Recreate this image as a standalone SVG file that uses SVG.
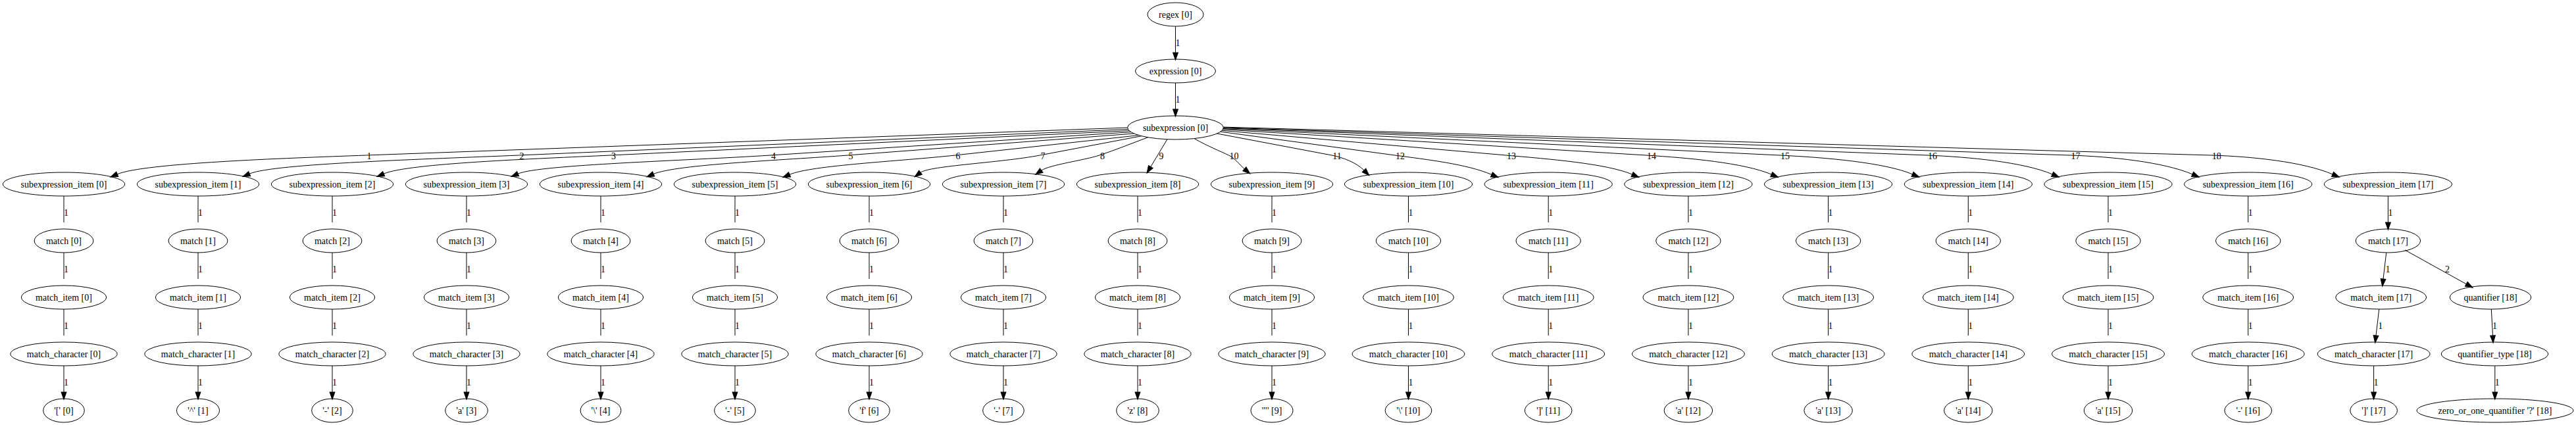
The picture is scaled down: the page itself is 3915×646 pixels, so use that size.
<svg xmlns="http://www.w3.org/2000/svg" width="3915" height="646" viewBox="0 0 3915 646">
<style>
ellipse{fill:none;stroke:#000;stroke-width:1}
text{font-family:"Liberation Serif","Times New Roman",serif;font-size:14px;text-anchor:middle;fill:#000}
.e{fill:none;stroke:#000;stroke-width:1;marker-end:url(#a)}
</style>
<defs>
<marker id="a" markerUnits="userSpaceOnUse" markerWidth="11" markerHeight="8" refX="0" refY="3.5" orient="auto" viewBox="0 0 10 7" overflow="visible"><path d="M0,0 L10,3.5 L0,7 z" fill="#000" stroke="#000" stroke-width="1"/></marker>
</defs>
<rect width="3915" height="646" fill="#fff"/>
<g id="regex_0"><ellipse cx="1786.5" cy="22" rx="42.5" ry="18"/><text x="1786.5" y="26.5">regex [0]</text></g>
<g id="expression_0"><ellipse cx="1786.5" cy="108" rx="61" ry="18"/><text x="1786.5" y="112.5">expression [0]</text></g>
<g id="subexpression_0"><ellipse cx="1786.5" cy="194" rx="72.9" ry="18"/><text x="1786.5" y="198.5">subexpression [0]</text></g>

<g id="subexpression_item_0"><ellipse cx="97" cy="280" rx="92.7" ry="18"/><text x="97" y="284.5">subexpression_item [0]</text></g>
<g id="match_0"><ellipse cx="97" cy="366" rx="44.9" ry="18"/><text x="97" y="370.5">match [0]</text></g>
<g id="match_item_0"><ellipse cx="97" cy="452" rx="64.7" ry="18"/><text x="97" y="456.5">match_item [0]</text></g>
<g id="match_character_0"><ellipse cx="97" cy="538" rx="81.1" ry="18"/><text x="97" y="542.5">match_character [0]</text></g>
<g id="leaf_0"><ellipse cx="97" cy="624" rx="31.3" ry="18"/><text x="97" y="628.5">'[' [0]</text></g>

<g id="subexpression_item_1"><ellipse cx="301" cy="280" rx="92.7" ry="18"/><text x="301" y="284.5">subexpression_item [1]</text></g>
<g id="match_1"><ellipse cx="301" cy="366" rx="44.9" ry="18"/><text x="301" y="370.5">match [1]</text></g>
<g id="match_item_1"><ellipse cx="301" cy="452" rx="64.7" ry="18"/><text x="301" y="456.5">match_item [1]</text></g>
<g id="match_character_1"><ellipse cx="301" cy="538" rx="81.1" ry="18"/><text x="301" y="542.5">match_character [1]</text></g>
<g id="leaf_1"><ellipse cx="301" cy="624" rx="32.5" ry="18"/><text x="301" y="628.5">'^' [1]</text></g>

<g id="subexpression_item_2"><ellipse cx="505" cy="280" rx="92.7" ry="18"/><text x="505" y="284.5">subexpression_item [2]</text></g>
<g id="match_2"><ellipse cx="505" cy="366" rx="44.9" ry="18"/><text x="505" y="370.5">match [2]</text></g>
<g id="match_item_2"><ellipse cx="505" cy="452" rx="64.7" ry="18"/><text x="505" y="456.5">match_item [2]</text></g>
<g id="match_character_2"><ellipse cx="505" cy="538" rx="81.1" ry="18"/><text x="505" y="542.5">match_character [2]</text></g>
<g id="leaf_2"><ellipse cx="505" cy="624" rx="31.3" ry="18"/><text x="505" y="628.5">'-' [2]</text></g>

<g id="subexpression_item_3"><ellipse cx="709" cy="280" rx="92.7" ry="18"/><text x="709" y="284.5">subexpression_item [3]</text></g>
<g id="match_3"><ellipse cx="709" cy="366" rx="44.9" ry="18"/><text x="709" y="370.5">match [3]</text></g>
<g id="match_item_3"><ellipse cx="709" cy="452" rx="64.7" ry="18"/><text x="709" y="456.5">match_item [3]</text></g>
<g id="match_character_3"><ellipse cx="709" cy="538" rx="81.1" ry="18"/><text x="709" y="542.5">match_character [3]</text></g>
<g id="leaf_3"><ellipse cx="709" cy="624" rx="32.3" ry="18"/><text x="709" y="628.5">'a' [3]</text></g>

<g id="subexpression_item_4"><ellipse cx="913" cy="280" rx="92.7" ry="18"/><text x="913" y="284.5">subexpression_item [4]</text></g>
<g id="match_4"><ellipse cx="913" cy="366" rx="44.9" ry="18"/><text x="913" y="370.5">match [4]</text></g>
<g id="match_item_4"><ellipse cx="913" cy="452" rx="64.7" ry="18"/><text x="913" y="456.5">match_item [4]</text></g>
<g id="match_character_4"><ellipse cx="913" cy="538" rx="81.1" ry="18"/><text x="913" y="542.5">match_character [4]</text></g>
<g id="leaf_4"><ellipse cx="913" cy="624" rx="30.9" ry="18"/><text x="913" y="628.5">'\' [4]</text></g>

<g id="subexpression_item_5"><ellipse cx="1117" cy="280" rx="92.7" ry="18"/><text x="1117" y="284.5">subexpression_item [5]</text></g>
<g id="match_5"><ellipse cx="1117" cy="366" rx="44.9" ry="18"/><text x="1117" y="370.5">match [5]</text></g>
<g id="match_item_5"><ellipse cx="1117" cy="452" rx="64.7" ry="18"/><text x="1117" y="456.5">match_item [5]</text></g>
<g id="match_character_5"><ellipse cx="1117" cy="538" rx="81.1" ry="18"/><text x="1117" y="542.5">match_character [5]</text></g>
<g id="leaf_5"><ellipse cx="1117" cy="624" rx="31.3" ry="18"/><text x="1117" y="628.5">'-' [5]</text></g>

<g id="subexpression_item_6"><ellipse cx="1321" cy="280" rx="92.7" ry="18"/><text x="1321" y="284.5">subexpression_item [6]</text></g>
<g id="match_6"><ellipse cx="1321" cy="366" rx="44.9" ry="18"/><text x="1321" y="370.5">match [6]</text></g>
<g id="match_item_6"><ellipse cx="1321" cy="452" rx="64.7" ry="18"/><text x="1321" y="456.5">match_item [6]</text></g>
<g id="match_character_6"><ellipse cx="1321" cy="538" rx="81.1" ry="18"/><text x="1321" y="542.5">match_character [6]</text></g>
<g id="leaf_6"><ellipse cx="1321" cy="624" rx="31.3" ry="18"/><text x="1321" y="628.5">'f' [6]</text></g>

<g id="subexpression_item_7"><ellipse cx="1525" cy="280" rx="92.7" ry="18"/><text x="1525" y="284.5">subexpression_item [7]</text></g>
<g id="match_7"><ellipse cx="1525" cy="366" rx="44.9" ry="18"/><text x="1525" y="370.5">match [7]</text></g>
<g id="match_item_7"><ellipse cx="1525" cy="452" rx="64.7" ry="18"/><text x="1525" y="456.5">match_item [7]</text></g>
<g id="match_character_7"><ellipse cx="1525" cy="538" rx="81.1" ry="18"/><text x="1525" y="542.5">match_character [7]</text></g>
<g id="leaf_7"><ellipse cx="1525" cy="624" rx="31.3" ry="18"/><text x="1525" y="628.5">'-' [7]</text></g>

<g id="subexpression_item_8"><ellipse cx="1729" cy="280" rx="92.7" ry="18"/><text x="1729" y="284.5">subexpression_item [8]</text></g>
<g id="match_8"><ellipse cx="1729" cy="366" rx="44.9" ry="18"/><text x="1729" y="370.5">match [8]</text></g>
<g id="match_item_8"><ellipse cx="1729" cy="452" rx="64.7" ry="18"/><text x="1729" y="456.5">match_item [8]</text></g>
<g id="match_character_8"><ellipse cx="1729" cy="538" rx="81.1" ry="18"/><text x="1729" y="542.5">match_character [8]</text></g>
<g id="leaf_8"><ellipse cx="1729" cy="624" rx="32.3" ry="18"/><text x="1729" y="628.5">'z' [8]</text></g>

<g id="subexpression_item_9"><ellipse cx="1933" cy="280" rx="92.7" ry="18"/><text x="1933" y="284.5">subexpression_item [9]</text></g>
<g id="match_9"><ellipse cx="1933" cy="366" rx="44.9" ry="18"/><text x="1933" y="370.5">match [9]</text></g>
<g id="match_item_9"><ellipse cx="1933" cy="452" rx="64.7" ry="18"/><text x="1933" y="456.5">match_item [9]</text></g>
<g id="match_character_9"><ellipse cx="1933" cy="538" rx="81.1" ry="18"/><text x="1933" y="542.5">match_character [9]</text></g>
<g id="leaf_9"><ellipse cx="1933" cy="624" rx="32" ry="18"/><text x="1933" y="628.5">'"' [9]</text></g>

<g id="subexpression_item_10"><ellipse cx="2140.5" cy="280" rx="97.1" ry="18"/><text x="2140.5" y="284.5">subexpression_item [10]</text></g>
<g id="match_10"><ellipse cx="2140.5" cy="366" rx="49.2" ry="18"/><text x="2140.5" y="370.5">match [10]</text></g>
<g id="match_item_10"><ellipse cx="2140.5" cy="452" rx="69" ry="18"/><text x="2140.5" y="456.5">match_item [10]</text></g>
<g id="match_character_10"><ellipse cx="2140.5" cy="538" rx="85.4" ry="18"/><text x="2140.5" y="542.5">match_character [10]</text></g>
<g id="leaf_10"><ellipse cx="2140.5" cy="624" rx="35.3" ry="18"/><text x="2140.5" y="628.5">'\' [10]</text></g>

<g id="subexpression_item_11"><ellipse cx="2353.2" cy="280" rx="97.1" ry="18"/><text x="2353.2" y="284.5">subexpression_item [11]</text></g>
<g id="match_11"><ellipse cx="2353.2" cy="366" rx="49.2" ry="18"/><text x="2353.2" y="370.5">match [11]</text></g>
<g id="match_item_11"><ellipse cx="2353.2" cy="452" rx="69" ry="18"/><text x="2353.2" y="456.5">match_item [11]</text></g>
<g id="match_character_11"><ellipse cx="2353.2" cy="538" rx="85.4" ry="18"/><text x="2353.2" y="542.5">match_character [11]</text></g>
<g id="leaf_11"><ellipse cx="2353.2" cy="624" rx="35.8" ry="18"/><text x="2353.2" y="628.5">']' [11]</text></g>

<g id="subexpression_item_12"><ellipse cx="2565.9" cy="280" rx="97.1" ry="18"/><text x="2565.9" y="284.5">subexpression_item [12]</text></g>
<g id="match_12"><ellipse cx="2565.9" cy="366" rx="49.2" ry="18"/><text x="2565.9" y="370.5">match [12]</text></g>
<g id="match_item_12"><ellipse cx="2565.9" cy="452" rx="69" ry="18"/><text x="2565.9" y="456.5">match_item [12]</text></g>
<g id="match_character_12"><ellipse cx="2565.9" cy="538" rx="85.4" ry="18"/><text x="2565.9" y="542.5">match_character [12]</text></g>
<g id="leaf_12"><ellipse cx="2565.9" cy="624" rx="36.7" ry="18"/><text x="2565.9" y="628.5">'a' [12]</text></g>

<g id="subexpression_item_13"><ellipse cx="2778.6" cy="280" rx="97.1" ry="18"/><text x="2778.6" y="284.5">subexpression_item [13]</text></g>
<g id="match_13"><ellipse cx="2778.6" cy="366" rx="49.2" ry="18"/><text x="2778.6" y="370.5">match [13]</text></g>
<g id="match_item_13"><ellipse cx="2778.6" cy="452" rx="69" ry="18"/><text x="2778.6" y="456.5">match_item [13]</text></g>
<g id="match_character_13"><ellipse cx="2778.6" cy="538" rx="85.4" ry="18"/><text x="2778.6" y="542.5">match_character [13]</text></g>
<g id="leaf_13"><ellipse cx="2778.6" cy="624" rx="36.7" ry="18"/><text x="2778.6" y="628.5">'a' [13]</text></g>

<g id="subexpression_item_14"><ellipse cx="2991.3" cy="280" rx="97.1" ry="18"/><text x="2991.3" y="284.5">subexpression_item [14]</text></g>
<g id="match_14"><ellipse cx="2991.3" cy="366" rx="49.2" ry="18"/><text x="2991.3" y="370.5">match [14]</text></g>
<g id="match_item_14"><ellipse cx="2991.3" cy="452" rx="69" ry="18"/><text x="2991.3" y="456.5">match_item [14]</text></g>
<g id="match_character_14"><ellipse cx="2991.3" cy="538" rx="85.4" ry="18"/><text x="2991.3" y="542.5">match_character [14]</text></g>
<g id="leaf_14"><ellipse cx="2991.3" cy="624" rx="36.7" ry="18"/><text x="2991.3" y="628.5">'a' [14]</text></g>

<g id="subexpression_item_15"><ellipse cx="3204" cy="280" rx="97.1" ry="18"/><text x="3204" y="284.5">subexpression_item [15]</text></g>
<g id="match_15"><ellipse cx="3204" cy="366" rx="49.2" ry="18"/><text x="3204" y="370.5">match [15]</text></g>
<g id="match_item_15"><ellipse cx="3204" cy="452" rx="69" ry="18"/><text x="3204" y="456.5">match_item [15]</text></g>
<g id="match_character_15"><ellipse cx="3204" cy="538" rx="85.4" ry="18"/><text x="3204" y="542.5">match_character [15]</text></g>
<g id="leaf_15"><ellipse cx="3204" cy="624" rx="36.7" ry="18"/><text x="3204" y="628.5">'a' [15]</text></g>

<g id="subexpression_item_16"><ellipse cx="3416.7" cy="280" rx="97.1" ry="18"/><text x="3416.7" y="284.5">subexpression_item [16]</text></g>
<g id="match_16"><ellipse cx="3416.7" cy="366" rx="49.2" ry="18"/><text x="3416.7" y="370.5">match [16]</text></g>
<g id="match_item_16"><ellipse cx="3416.7" cy="452" rx="69" ry="18"/><text x="3416.7" y="456.5">match_item [16]</text></g>
<g id="match_character_16"><ellipse cx="3416.7" cy="538" rx="85.4" ry="18"/><text x="3416.7" y="542.5">match_character [16]</text></g>
<g id="leaf_16"><ellipse cx="3416.7" cy="624" rx="35.8" ry="18"/><text x="3416.7" y="628.5">'-' [16]</text></g>

<g id="subexpression_item_17"><ellipse cx="3629.4" cy="280" rx="97.1" ry="18"/><text x="3629.4" y="284.5">subexpression_item [17]</text></g>
<g id="match_17"><ellipse cx="3629.4" cy="366" rx="49.2" ry="18"/><text x="3629.4" y="370.5">match [17]</text></g>
<g id="match_item_17"><ellipse cx="3618.7" cy="452" rx="69" ry="18"/><text x="3618.7" y="456.5">match_item [17]</text></g>
<g id="match_character_17"><ellipse cx="3607.6" cy="538" rx="85.4" ry="18"/><text x="3607.6" y="542.5">match_character [17]</text></g>
<g id="leaf_17"><ellipse cx="3607.6" cy="624" rx="35.8" ry="18"/><text x="3607.6" y="628.5">']' [17]</text></g>
<g id="quantifier_18"><ellipse cx="3785" cy="452" rx="61.8" ry="18"/><text x="3785" y="456.5">quantifier [18]</text></g>
<g id="quantifier_type_18"><ellipse cx="3791.5" cy="538" rx="81.1" ry="18"/><text x="3791.5" y="542.5">quantifier_type [18]</text></g>
<g id="zero_or_one_quantifier_18"><ellipse cx="3792" cy="624" rx="119" ry="18"/><text x="3792" y="628.5">zero_or_one_quantifier '?' [18]</text></g>

<g id="connectors">
<path class="e" d="M1786.5,40V80"/><text x="1790" y="69.5">1</text>
<path class="e" d="M1786.5,126V166"/><text x="1790" y="155.5">1</text>

<path class="e" d="M1713.6,194C1327.9,208 942.2,222 556.5,236C430.4,240.6 218.1,247.9 178.2,264.8"/><text x="561" y="241.5">1</text>
<path class="e" d="M1714.3,196.5C1405.7,209.7 1097.1,222.8 788.5,236C652.1,241.8 416,248.5 379.2,264.1"/><text x="793" y="241.5">2</text>
<path class="e" d="M1716.1,198.7C1453.4,211.1 1190.7,223.6 928,236C813.1,241.4 620.6,248.2 583.2,264.1"/><text x="932.5" y="241.5">3</text>
<path class="e" d="M1718.9,200.7C1536.3,212.5 1353.6,224.2 1171,236C1043.1,244.2 820,250.2 787.2,264.1"/><text x="1175.5" y="241.5">4</text>
<path class="e" d="M1723.4,203C1578.4,214 1433.5,225 1288.5,236C1190.1,243.5 1027.9,249.8 993.2,264.5"/><text x="1293" y="241.5">5</text>
<path class="e" d="M1730.7,205.6C1637.6,215.7 1544.6,225.9 1451.5,236C1367.7,245.1 1233.4,251.1 1200,265.3"/><text x="1456" y="241.5">6</text>
<path class="e" d="M1735,206.7C1683.5,216.5 1632,226.2 1580.5,236C1520,247.5 1412.8,251.9 1399,262.2"/><text x="1585" y="241.5">7</text>
<path class="e" d="M1744.7,208.7C1720,218 1695,228 1671,236C1647,243.8 1595,250.5 1582.7,259.1"/><text x="1675.5" y="241.5">8</text>
<path class="e" d="M1774,211.7L1748.8,253.6"/><text x="1765" y="241.5">9</text>
<path class="e" d="M1815,210.6C1835,222 1855,230 1867.4,236C1877.7,241 1882.3,249 1891.4,256.8"/><text x="1875.4" y="241.5">10</text>
<path class="e" d="M1849.6,203C1907.7,214 1965.9,225 2024,236C2040.3,239.1 2061.6,247.2 2073,258.8"/><text x="2032" y="241.5">11</text>
<path class="e" d="M1855,200.2C1943.3,212.1 2031.7,224.1 2120,236C2169,242.6 2229.4,249.4 2267,265.4"/><text x="2128" y="241.5">12</text>
<path class="e" d="M1857.2,198.4C2001.1,210.9 2145.1,223.5 2289,236C2352.9,241.6 2441.8,248.6 2480.6,265.1"/><text x="2297" y="241.5">13</text>
<path class="e" d="M1858.5,196.8C2073,209.9 2287.5,222.9 2502,236C2565.4,239.9 2650.7,247.5 2692.3,265.1"/><text x="2510" y="241.5">14</text>
<path class="e" d="M1859.1,195.6C2141.1,209.1 2423,222.5 2705,236C2772.2,239.2 2864.2,246.9 2906.6,264.9"/><text x="2713" y="241.5">15</text>
<path class="e" d="M1859.4,194.6C2215.9,208.4 2572.5,222.2 2929,236C2992.4,238.5 3075.6,246.4 3119.2,264.9"/><text x="2937" y="241.5">16</text>
<path class="e" d="M1859.4,194C2288.5,208 2717.5,222 3146.6,236C3208.4,238 3287.7,246.1 3332.1,264.9"/><text x="3154.6" y="241.5">17</text>
<path class="e" d="M1859.3,193.1C2359.8,207.4 2860.3,221.7 3360.8,236C3422.2,237.8 3500.4,245.9 3545.1,264.9"/><text x="3368.8" y="241.5">18</text>

<path class="e" d="M97,298V338M97,384V424M97,470V510M97,556V596"/>
<path class="e" d="M301,298V338M301,384V424M301,470V510M301,556V596"/>
<path class="e" d="M505,298V338M505,384V424M505,470V510M505,556V596"/>
<path class="e" d="M709,298V338M709,384V424M709,470V510M709,556V596"/>
<path class="e" d="M913,298V338M913,384V424M913,470V510M913,556V596"/>
<path class="e" d="M1117,298V338M1117,384V424M1117,470V510M1117,556V596"/>
<path class="e" d="M1321,298V338M1321,384V424M1321,470V510M1321,556V596"/>
<path class="e" d="M1525,298V338M1525,384V424M1525,470V510M1525,556V596"/>
<path class="e" d="M1729,298V338M1729,384V424M1729,470V510M1729,556V596"/>
<path class="e" d="M1933,298V338M1933,384V424M1933,470V510M1933,556V596"/>
<path class="e" d="M2140.5,298V338M2140.5,384V424M2140.5,470V510M2140.5,556V596"/>
<path class="e" d="M2353.2,298V338M2353.2,384V424M2353.2,470V510M2353.2,556V596"/>
<path class="e" d="M2565.9,298V338M2565.9,384V424M2565.9,470V510M2565.9,556V596"/>
<path class="e" d="M2778.6,298V338M2778.6,384V424M2778.6,470V510M2778.6,556V596"/>
<path class="e" d="M2991.3,298V338M2991.3,384V424M2991.3,470V510M2991.3,556V596"/>
<path class="e" d="M3204,298V338M3204,384V424M3204,470V510M3204,556V596"/>
<path class="e" d="M3416.7,298V338M3416.7,384V424M3416.7,470V510M3416.7,556V596"/>
<path class="e" d="M3629.4,298V338"/>
<path class="e" d="M3626.7,384L3622,424.1"/>
<path class="e" d="M3655,380L3748.3,431.8"/>
<path class="e" d="M3615.7,470L3611,510.1"/>
<path class="e" d="M3786.3,470L3788.5,510"/>
<path class="e" d="M3607.6,556V596"/>
<path class="e" d="M3791.8,556V596"/>

<g id="vertical-labels">
<text x="100.5" y="327.5">1</text><text x="100.5" y="413.5">1</text><text x="100.5" y="499.5">1</text><text x="100.5" y="585.5">1</text>
<text x="304.5" y="327.5">1</text><text x="304.5" y="413.5">1</text><text x="304.5" y="499.5">1</text><text x="304.5" y="585.5">1</text>
<text x="508.5" y="327.5">1</text><text x="508.5" y="413.5">1</text><text x="508.5" y="499.5">1</text><text x="508.5" y="585.5">1</text>
<text x="712.5" y="327.5">1</text><text x="712.5" y="413.5">1</text><text x="712.5" y="499.5">1</text><text x="712.5" y="585.5">1</text>
<text x="916.5" y="327.5">1</text><text x="916.5" y="413.5">1</text><text x="916.5" y="499.5">1</text><text x="916.5" y="585.5">1</text>
<text x="1120.5" y="327.5">1</text><text x="1120.5" y="413.5">1</text><text x="1120.5" y="499.5">1</text><text x="1120.5" y="585.5">1</text>
<text x="1324.5" y="327.5">1</text><text x="1324.5" y="413.5">1</text><text x="1324.5" y="499.5">1</text><text x="1324.5" y="585.5">1</text>
<text x="1528.5" y="327.5">1</text><text x="1528.5" y="413.5">1</text><text x="1528.5" y="499.5">1</text><text x="1528.5" y="585.5">1</text>
<text x="1732.5" y="327.5">1</text><text x="1732.5" y="413.5">1</text><text x="1732.5" y="499.5">1</text><text x="1732.5" y="585.5">1</text>
<text x="1936.5" y="327.5">1</text><text x="1936.5" y="413.5">1</text><text x="1936.5" y="499.5">1</text><text x="1936.5" y="585.5">1</text>
<text x="2144" y="327.5">1</text><text x="2144" y="413.5">1</text><text x="2144" y="499.5">1</text><text x="2144" y="585.5">1</text>
<text x="2356.7" y="327.5">1</text><text x="2356.7" y="413.5">1</text><text x="2356.7" y="499.5">1</text><text x="2356.7" y="585.5">1</text>
<text x="2569.4" y="327.5">1</text><text x="2569.4" y="413.5">1</text><text x="2569.4" y="499.5">1</text><text x="2569.4" y="585.5">1</text>
<text x="2782.1" y="327.5">1</text><text x="2782.1" y="413.5">1</text><text x="2782.1" y="499.5">1</text><text x="2782.1" y="585.5">1</text>
<text x="2994.8" y="327.5">1</text><text x="2994.8" y="413.5">1</text><text x="2994.8" y="499.5">1</text><text x="2994.8" y="585.5">1</text>
<text x="3207.5" y="327.5">1</text><text x="3207.5" y="413.5">1</text><text x="3207.5" y="499.5">1</text><text x="3207.5" y="585.5">1</text>
<text x="3420.2" y="327.5">1</text><text x="3420.2" y="413.5">1</text><text x="3420.2" y="499.5">1</text><text x="3420.2" y="585.5">1</text>
<text x="3632.9" y="327.5">1</text>
<text x="3629" y="413.5">1</text>
<text x="3719.6" y="413.5">2</text>
<text x="3617.7" y="499.5">1</text>
<text x="3791.4" y="499.5">1</text>
<text x="3611.1" y="585.5">1</text>
<text x="3795.3" y="585.5">1</text>
</g>
</g>
</svg>
